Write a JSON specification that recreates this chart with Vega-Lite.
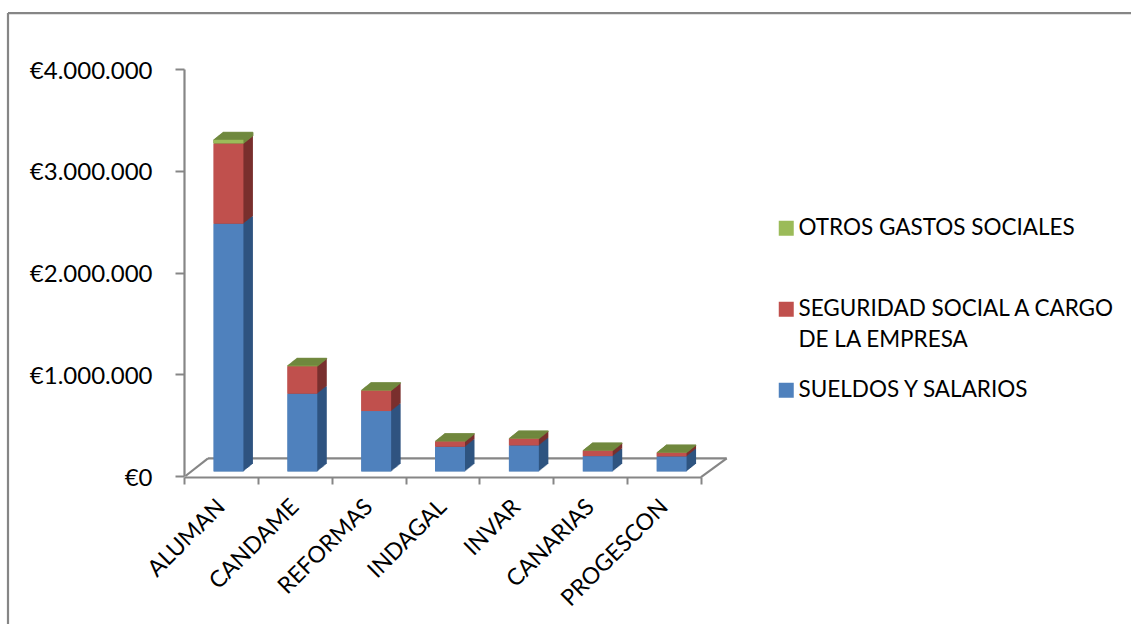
{
"$schema":"https://vega.github.io/schema/vega-lite/v6.json",
"width":517,"height":407,
"autosize":{"type":"none"},
"padding":{"left":184,"top":69,"right":430,"bottom":148},
"background":"white",
"config":{"view":{"stroke":null},"font":"Lato",
"style":{"guide-label":{"lineHeight":31}},
"locale":{"number":{"decimal":",","thousands":".","grouping":[3],"currency":["€",""]}}},
"datasets":{
"gastos":[
{"empresa":"ALUMAN","serie":"SUELDOS Y SALARIOS","valor":2436000},
{"empresa":"ALUMAN","serie":"SEGURIDAD SOCIAL A CARGO DE LA EMPRESA","valor":788000},
{"empresa":"ALUMAN","serie":"OTROS GASTOS SOCIALES","valor":36000},
{"empresa":"CANDAME","serie":"SUELDOS Y SALARIOS","valor":765000},
{"empresa":"CANDAME","serie":"SEGURIDAD SOCIAL A CARGO DE LA EMPRESA","valor":269000},
{"empresa":"CANDAME","serie":"OTROS GASTOS SOCIALES","valor":5000},
{"empresa":"REFORMAS","serie":"SUELDOS Y SALARIOS","valor":594000},
{"empresa":"REFORMAS","serie":"SEGURIDAD SOCIAL A CARGO DE LA EMPRESA","valor":201000},
{"empresa":"REFORMAS","serie":"OTROS GASTOS SOCIALES","valor":3000},
{"empresa":"INDAGAL","serie":"SUELDOS Y SALARIOS","valor":243000},
{"empresa":"INDAGAL","serie":"SEGURIDAD SOCIAL A CARGO DE LA EMPRESA","valor":52000},
{"empresa":"INDAGAL","serie":"OTROS GASTOS SOCIALES","valor":2000},
{"empresa":"INVAR","serie":"SUELDOS Y SALARIOS","valor":256000},
{"empresa":"INVAR","serie":"SEGURIDAD SOCIAL A CARGO DE LA EMPRESA","valor":66000},
{"empresa":"INVAR","serie":"OTROS GASTOS SOCIALES","valor":2000},
{"empresa":"CANARIAS","serie":"SUELDOS Y SALARIOS","valor":151000},
{"empresa":"CANARIAS","serie":"SEGURIDAD SOCIAL A CARGO DE LA EMPRESA","valor":53000},
{"empresa":"CANARIAS","serie":"OTROS GASTOS SOCIALES","valor":2000},
{"empresa":"PROGESCON","serie":"SUELDOS Y SALARIOS","valor":148000},
{"empresa":"PROGESCON","serie":"SEGURIDAD SOCIAL A CARGO DE LA EMPRESA","valor":36000},
{"empresa":"PROGESCON","serie":"OTROS GASTOS SOCIALES","valor":2000}
],
"marco":[
{"parte":"suelo fondo","a":0.325,"b":7.348,"v":174000,"w":174000},
{"parte":"suelo izquierda","a":0.02,"b":0.325,"v":0,"w":174000},
{"parte":"suelo derecha","a":7,"b":7.348,"v":-10000,"w":174000},
{"parte":"borde izquierdo","a":-2.383,"b":-2.383,"v":-1500000,"w":4550000},
{"parte":"borde superior","a":-2.383,"b":13,"v":4550000,"w":4550000}
]
},
"resolve":{"scale":{"x":"independent"}},
"layer":[
{
"data":{"name":"marco"},
"mark":{"type":"rule","color":"#868686","strokeWidth":2.2},
"encoding":{
"x":{"field":"a","type":"quantitative","scale":{"domain":[0,7],"nice":false,"zero":false},"axis":null},
"x2":{"field":"b"},
"y":{"field":"v","type":"quantitative","scale":{"domain":[0,4000000],"nice":false}},
"y2":{"field":"w"}
}
},
{
"data":{"name":"gastos"},
"encoding":{
"x":{"field":"empresa","type":"nominal","sort":null,"title":null,
"scale":{"paddingInner":0,"paddingOuter":0},
"axis":{"tickBand":"extent","labelAngle":-45,"labelAlign":"right","labelBaseline":"middle","labelFont":"Lato","labelFontSize":23,"labelColor":"black","labelPadding":19,"labelOffset":0,"domainColor":"#868686","domainWidth":2.2,"tickColor":"#868686","tickWidth":2,"tickSize":7,"offset":1,"grid":false,"labelOverlap":false}},
"y":{"field":"valor","type":"quantitative","stack":"zero","title":null,
"scale":{"domain":[0,4000000],"nice":false},
"axis":{"values":[0,1000000,2000000,3000000,4000000],"format":"$,.0f","labelFont":"Lato","labelFontSize":24,"labelColor":"black","labelPadding":23,"labelOffset":2,"domainColor":"#868686","domainWidth":2.2,"tickColor":"#868686","tickWidth":2,"tickSize":9,"grid":false}}
},
"resolve":{"scale":{"color":"independent"}},
"layer":[
{
"encoding":{
"color":{"field":"serie","type":"nominal","legend":null,
"scale":{"domain":["OTROS GASTOS SOCIALES","SEGURIDAD SOCIAL A CARGO DE LA EMPRESA","SUELDOS Y SALARIOS"],"range":["#71893F","#7A302E","#2F5480"]}},
"stroke":{"field":"serie","type":"nominal","legend":null,
"scale":{"domain":["OTROS GASTOS SOCIALES","SEGURIDAD SOCIAL A CARGO DE LA EMPRESA","SUELDOS Y SALARIOS"],"range":["#71893F","transparent","transparent"]}}
},
"layer":[
{"mark":{"type":"bar","width":30,"strokeWidth":1,"xOffset":17,"yOffset":-12},
"encoding":{}},
{"mark":{"type":"bar","width":30,"strokeWidth":1,"xOffset":16,"yOffset":-11.2}},
{"mark":{"type":"bar","width":30,"strokeWidth":1,"xOffset":15,"yOffset":-10.4}},
{"mark":{"type":"bar","width":30,"strokeWidth":1,"xOffset":14,"yOffset":-9.6}},
{"mark":{"type":"bar","width":30,"strokeWidth":1,"xOffset":13,"yOffset":-8.8}},
{"mark":{"type":"bar","width":30,"strokeWidth":1,"xOffset":12,"yOffset":-8}},
{"mark":{"type":"bar","width":30,"strokeWidth":1,"xOffset":11,"yOffset":-7.2}},
{"mark":{"type":"bar","width":30,"strokeWidth":1,"xOffset":10,"yOffset":-6.4}},
{"mark":{"type":"bar","width":30,"strokeWidth":1,"xOffset":9,"yOffset":-5.6}},
{"mark":{"type":"bar","width":30,"strokeWidth":1,"xOffset":8,"yOffset":-4.8}}
]
},
{
"mark":{"type":"bar","width":30,"xOffset":7.5,"yOffset":-4.5},
"encoding":{
"color":{"field":"serie","type":"nominal",
"scale":{"domain":["OTROS GASTOS SOCIALES","SEGURIDAD SOCIAL A CARGO DE LA EMPRESA","SUELDOS Y SALARIOS"],"range":["#9BBB59","#C0504D","#4F81BD"]},
"legend":{"title":null,"orient":"none","legendX":591,"legendY":148,"padding":0,"symbolType":"square","symbolSize":225,"symbolStrokeWidth":0,"labelFont":"Lato","labelFontSize":22.5,"labelColor":"black","labelOffset":1,"labelLimit":400,"rowPadding":27,"gridAlign":"all",
"encoding":{"labels":{"update":{"lineHeight":{"value":31}}}},
"labelExpr":"datum.label == 'SEGURIDAD SOCIAL A CARGO DE LA EMPRESA' ? ['SEGURIDAD SOCIAL A CARGO','DE LA EMPRESA'] : datum.label"}}
}
}
]
}
]
}
